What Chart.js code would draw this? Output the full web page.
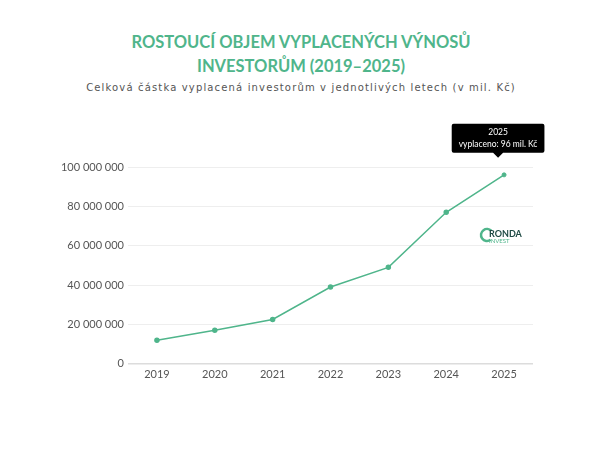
<!DOCTYPE html>
<html lang="cs">
<head>
<meta charset="utf-8">
<script src="https://cdn.jsdelivr.net/npm/chart.js@4"></script>
<style>
  html, body { margin: 0; padding: 0; background: #fff; }
  #wrap { position: relative; width: 602px; height: 452px; }
  h1 {
    position: absolute; left: 0; top: 30px; width: 602px; margin: 0;
    text-align: center; color: #4fb58b; font: bold 16.5px Lato, sans-serif;
    line-height: 24px; letter-spacing: 0;
  }
  .sub {
    position: absolute; left: 0; top: 82px; width: 602px; margin: 0;
    text-align: center; color: #555; font: 10px "DejaVu Sans", sans-serif;
    letter-spacing: 1.15px;
  }
  canvas { position: absolute; left: 0; top: 0; }
</style>
</head>
<body>
<div id="wrap">
  <h1>ROSTOUCÍ OBJEM VYPLACENÝCH VÝNOSŮ<br>INVESTORŮM (2019–2025)</h1>
  <p class="sub">Celková částka vyplacená investorům v jednotlivých letech (v mil. Kč)</p>
  <canvas id="payoutChart" width="602" height="452"></canvas>
</div>
<script>
// data
const years = ['2019', '2020', '2021', '2022', '2023', '2024', '2025'];
const paidOut = [12000000, 17000000, 22500000, 39000000, 49000000, 77000000, 96000000];
const yTicks = [0, 20000000, 40000000, 60000000, 80000000, 100000000];

const green = '#4fb58b';

const formatNum = (v) => String(v).replace(/\B(?=(\d{3})+(?!\d))/g, ' ');

// tooltip sits where the mouse was, a bit up-left of the point
Chart.Tooltip.positioners.nearMouse = function (items) {
  if (!items.length) return false;
  const el = items[0].element;
  return { x: el.x - 6, y: el.y - 15 };
};

// small RONDA INVEST mark inside the plot
const logoPlugin = {
  id: 'logo',
  afterDatasetsDraw(chart) {
    const { ctx, chartArea } = chart;
    const x = chartArea.right - 46;
    const y = chartArea.top + 68;
    ctx.save();
    ctx.strokeStyle = green;
    ctx.lineWidth = 2.5;
    ctx.beginPath();
    ctx.arc(x, y, 6, Math.PI * 0.3, Math.PI * 1.75);
    ctx.stroke();
    ctx.fillStyle = '#1f4a44';
    ctx.font = 'bold 9px Lato';
    ctx.textBaseline = 'middle';
    ctx.fillText('RONDA', x + 2, y - 1);
    ctx.fillStyle = green;
    ctx.font = '6px Lato';
    ctx.fillText('INVEST', x + 2, y + 6.5);
    ctx.restore();
  }
};

const ctx = document.getElementById('payoutChart').getContext('2d');
const chart = new Chart(ctx, {
  type: 'line',
  data: {
    labels: years,
    datasets: [{
      label: 'vyplaceno',
      data: paidOut,
      borderColor: green,
      backgroundColor: green,
      borderWidth: 1.5,
      pointRadius: 2,
      pointHoverRadius: 2,
      pointHoverBackgroundColor: green,
      pointHoverBorderColor: green,
      tension: 0
    }]
  },
  plugins: [logoPlugin],
  options: {
    responsive: false,
    animation: false,
    layout: { padding: { left: 53, right: 69, top: 167, bottom: 67 } },
    plugins: {
      legend: { display: false },
      title: { display: false },
      tooltip: {
        position: 'nearMouse',
        backgroundColor: '#000',
        displayColors: false,
        titleAlign: 'center',
        bodyAlign: 'center',
        titleFont: { family: 'Lato', size: 8.5, weight: 'normal', lineHeight: 1 },
        bodyFont: { family: 'Lato', size: 8.5, lineHeight: 1 },
        titleMarginBottom: 4,
        padding: { x: 7, y: 4 },
        cornerRadius: 2,
        caretSize: 5,
        yAlign: 'bottom',
        callbacks: {
          label: (c) => 'vyplaceno: ' + Math.round(c.parsed.y / 1000000) + ' mil. Kč'
        }
      }
    },
    scales: {
      x: {
        offset: true,
        grid: { display: false, drawTicks: false },
        border: { display: false },
        ticks: { color: '#555', font: { family: 'Lato', size: 11 }, padding: 4 }
      },
      y: {
        min: 0,
        max: 100000000,
        afterBuildTicks: (scale) => { scale.ticks = yTicks.map(v => ({ value: v })); },
        afterFit: (scale) => { scale.width = 75; },
        grid: {
          drawTicks: false,
          color: (c) => c.tick.value === 0 ? '#dcdcdc' : '#eeeeee',
          lineWidth: (c) => c.tick.value === 0 ? 1.5 : 1
        },
        border: { display: false },
        ticks: {
          color: '#555',
          padding: 4,
          font: { family: 'Lato', size: 11 },
          callback: (v) => formatNum(v)
        }
      }
    }
  }
});

// keep the 2025 tooltip open like in the reference
const last = [{ datasetIndex: 0, index: years.length - 1 }];
chart.setActiveElements(last);
chart.tooltip.setActiveElements(last, { x: 0, y: 0 });
chart.update();
</script>
</body>
</html>
